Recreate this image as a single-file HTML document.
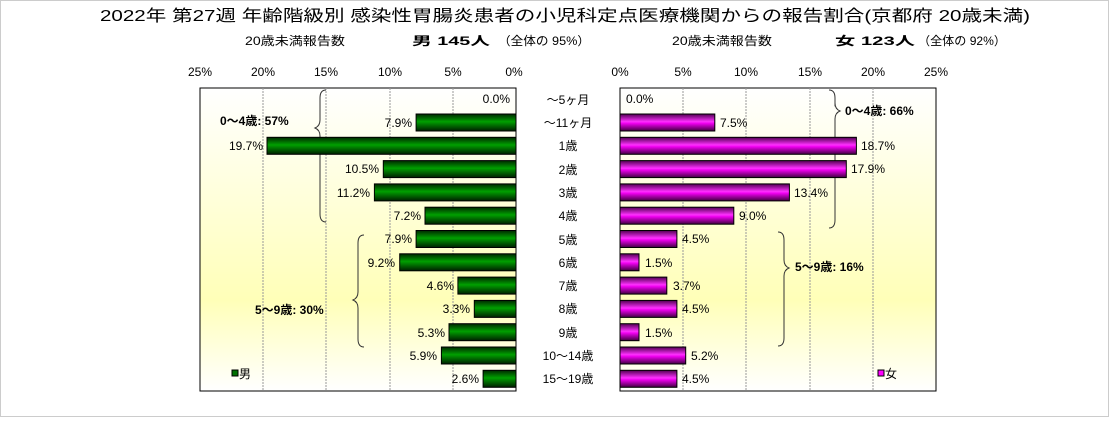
<!DOCTYPE html>
<html><head><meta charset="utf-8"><style>
body{margin:0;background:#fff}
svg text{font-family:"Liberation Sans","Noto Sans CJK JP",sans-serif;fill:#000}
</style></head><body>
<svg width="1109" height="417" viewBox="0 0 1109 417" xmlns="http://www.w3.org/2000/svg">
<defs>
<linearGradient id="bg" x1="0" y1="0" x2="0" y2="1">
<stop offset="0" stop-color="#ffffff"/><stop offset="0.7" stop-color="#ffffb8"/><stop offset="1" stop-color="#ffffff"/>
</linearGradient>
<linearGradient id="g" x1="0" y1="0" x2="0" y2="1">
<stop offset="0" stop-color="#002800"/><stop offset="0.45" stop-color="#00a000"/><stop offset="0.55" stop-color="#008800"/><stop offset="1" stop-color="#002000"/>
</linearGradient>
<linearGradient id="m" x1="0" y1="0" x2="0" y2="1">
<stop offset="0" stop-color="#500050"/><stop offset="0.45" stop-color="#ff30ff"/><stop offset="0.55" stop-color="#f000f0"/><stop offset="1" stop-color="#400040"/>
</linearGradient>
</defs>
<rect x="0.5" y="0.5" width="1108" height="416" fill="#fff" stroke="#ccc"/>
<text x="565" y="21" font-size="16" text-anchor="middle" textLength="930" lengthAdjust="spacingAndGlyphs">2022年 第27週  年齢階級別 感染性胃腸炎患者の小児科定点医療機関からの報告割合(京都府 20歳未満)</text>
<g font-size="12">
<text x="245" y="45" textLength="100" lengthAdjust="spacingAndGlyphs">20歳未満報告数</text>
<text x="412" y="45" font-weight="bold" textLength="78" lengthAdjust="spacingAndGlyphs">男 145人</text>
<text x="498" y="45" textLength="92" lengthAdjust="spacingAndGlyphs">（全体の  95%）</text>
<text x="672" y="45" textLength="100" lengthAdjust="spacingAndGlyphs">20歳未満報告数</text>
<text x="835" y="45" font-weight="bold" textLength="80" lengthAdjust="spacingAndGlyphs">女 123人</text>
<text x="918" y="45" textLength="88" lengthAdjust="spacingAndGlyphs">（全体の  92%）</text>
</g>
<rect x="200" y="88" width="316" height="303" fill="url(#bg)" stroke="#000"/>
<rect x="620" y="88" width="316" height="303" fill="url(#bg)" stroke="#000"/>
<g stroke="#999" stroke-dasharray="2,1">
<line x1="263" y1="88" x2="263" y2="391"/><line x1="326" y1="88" x2="326" y2="391"/><line x1="390" y1="88" x2="390" y2="391"/><line x1="453" y1="88" x2="453" y2="391"/>
<line x1="683" y1="88" x2="683" y2="391"/><line x1="746" y1="88" x2="746" y2="391"/><line x1="810" y1="88" x2="810" y2="391"/><line x1="873" y1="88" x2="873" y2="391"/>
</g>
<g font-size="12" text-anchor="middle">
<text x="200" y="76">25%</text><text x="263" y="76">20%</text><text x="326" y="76">15%</text><text x="390" y="76">10%</text><text x="453" y="76">5%</text><text x="514" y="76">0%</text>
<text x="620" y="76">0%</text><text x="683" y="76">5%</text><text x="746" y="76">10%</text><text x="810" y="76">15%</text><text x="873" y="76">20%</text><text x="936" y="76">25%</text>
</g>
<g fill="none" stroke="#333" stroke-width="1">
<path d="M326,90 q-6,0 -6,8 v22 q0,6 -5,8 q5,2 5,8 v78 q0,8 6,8"/>
<path d="M364,235 q-6,0 -6,8 v49 q0,6 -5,8 q5,2 5,8 v31 q0,8 6,8"/>
<path d="M829,90 q6,0 6,8 v5 q0,6 -0,0 q0,6 5,8 q-5,2 -5,8 v101 q0,8 -6,8"/>
<path d="M778,232 q6,0 6,8 v20 q0,6 5,8 q-5,2 -5,8 v62 q0,8 -6,8"/>
</g>
<g font-size="12" font-weight="bold">
<text x="220" y="125">0～4歳: 57%</text>
<text x="255" y="314">5～9歳: 30%</text>
<text x="845" y="115">0～4歳: 66%</text>
<text x="795" y="271">5～9歳: 16%</text>
</g>
<g font-size="12">
<rect x="232" y="370" width="6" height="6" fill="#007000" stroke="#000"/><text x="239" y="378">男</text>
<rect x="878" y="370" width="6" height="6" fill="#ff00ff" stroke="#000"/><text x="885" y="378">女</text>
</g>
<g font-size="12">
<text x="568" y="104" text-anchor="middle">～5ヶ月</text>
<text x="568" y="127" text-anchor="middle">～11ヶ月</text>
<text x="568" y="150" text-anchor="middle">1歳</text>
<text x="568" y="174" text-anchor="middle">2歳</text>
<text x="568" y="197" text-anchor="middle">3歳</text>
<text x="568" y="220" text-anchor="middle">4歳</text>
<text x="568" y="244" text-anchor="middle">5歳</text>
<text x="568" y="267" text-anchor="middle">6歳</text>
<text x="568" y="290" text-anchor="middle">7歳</text>
<text x="568" y="313" text-anchor="middle">8歳</text>
<text x="568" y="337" text-anchor="middle">9歳</text>
<text x="568" y="360" text-anchor="middle">10～14歳</text>
<text x="568" y="383" text-anchor="middle">15～19歳</text>
</g>
<g stroke="#000" stroke-width="1">
<rect x="416.1" y="114" width="99.9" height="17" fill="url(#g)"/>
<rect x="267" y="137.3" width="249" height="17" fill="url(#g)"/>
<rect x="383.3" y="160.6" width="132.7" height="17" fill="url(#g)"/>
<rect x="374.4" y="183.9" width="141.6" height="17" fill="url(#g)"/>
<rect x="425" y="207.2" width="91" height="17" fill="url(#g)"/>
<rect x="416.1" y="230.5" width="99.9" height="17" fill="url(#g)"/>
<rect x="399.7" y="253.8" width="116.3" height="17" fill="url(#g)"/>
<rect x="457.9" y="277.1" width="58.1" height="17" fill="url(#g)"/>
<rect x="474.3" y="300.4" width="41.7" height="17" fill="url(#g)"/>
<rect x="449" y="323.7" width="67" height="17" fill="url(#g)"/>
<rect x="441.4" y="347" width="74.6" height="17" fill="url(#g)"/>
<rect x="483.1" y="370.3" width="32.9" height="17" fill="url(#g)"/>
<rect x="620" y="114" width="94.8" height="17" fill="url(#m)"/>
<rect x="620" y="137.3" width="236.4" height="17" fill="url(#m)"/>
<rect x="620" y="160.6" width="226.3" height="17" fill="url(#m)"/>
<rect x="620" y="183.9" width="169.4" height="17" fill="url(#m)"/>
<rect x="620" y="207.2" width="113.8" height="17" fill="url(#m)"/>
<rect x="620" y="230.5" width="56.9" height="17" fill="url(#m)"/>
<rect x="620" y="253.8" width="19" height="17" fill="url(#m)"/>
<rect x="620" y="277.1" width="46.8" height="17" fill="url(#m)"/>
<rect x="620" y="300.4" width="56.9" height="17" fill="url(#m)"/>
<rect x="620" y="323.7" width="19" height="17" fill="url(#m)"/>
<rect x="620" y="347" width="65.7" height="17" fill="url(#m)"/>
<rect x="620" y="370.3" width="56.9" height="17" fill="url(#m)"/>
</g>
<g font-size="12" text-anchor="end">
<text x="510" y="103">0.0%</text>
<text x="412" y="127">7.9%</text>
<text x="263" y="150">19.7%</text>
<text x="379" y="173">10.5%</text>
<text x="370" y="197">11.2%</text>
<text x="421" y="220">7.2%</text>
<text x="412" y="243">7.9%</text>
<text x="395" y="267">9.2%</text>
<text x="454" y="290">4.6%</text>
<text x="470" y="313">3.3%</text>
<text x="445" y="337">5.3%</text>
<text x="437" y="360">5.9%</text>
<text x="479" y="383">2.6%</text>
</g>
<g font-size="12">
<text x="626" y="103">0.0%</text>
<text x="720" y="127">7.5%</text>
<text x="861" y="150">18.7%</text>
<text x="851" y="173">17.9%</text>
<text x="794" y="197">13.4%</text>
<text x="739" y="220">9.0%</text>
<text x="682" y="243">4.5%</text>
<text x="645" y="267">1.5%</text>
<text x="673" y="290">3.7%</text>
<text x="682" y="313">4.5%</text>
<text x="645" y="337">1.5%</text>
<text x="691" y="360">5.2%</text>
<text x="682" y="383">4.5%</text>
</g>
</svg>
</body></html>
